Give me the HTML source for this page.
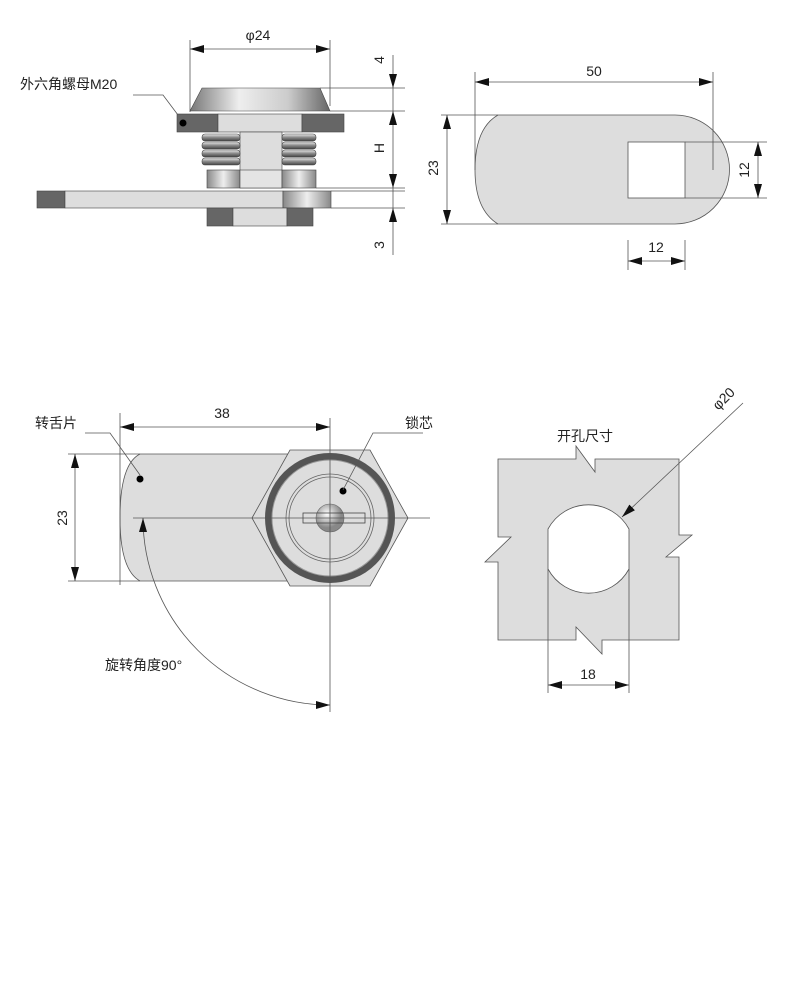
<!DOCTYPE html>
<html><head><meta charset="utf-8"><style>
body{margin:0;background:#fff}
svg{display:block}
text{font-family:"Liberation Sans","Noto Sans CJK SC",sans-serif;font-size:14px;fill:#222}
</style></head><body>
<svg width="788" height="1000" viewBox="0 0 788 1000" xmlns="http://www.w3.org/2000/svg">
<defs>
<linearGradient id="cone" x1="0" x2="1"><stop offset="0" stop-color="#777"/><stop offset=".35" stop-color="#eee"/><stop offset=".7" stop-color="#ccc"/><stop offset="1" stop-color="#666"/></linearGradient>
<linearGradient id="thr" x1="0" y1="0" x2="0" y2="1"><stop offset="0" stop-color="#eee"/><stop offset=".5" stop-color="#888"/><stop offset="1" stop-color="#444"/></linearGradient>
<linearGradient id="col" x1="0" x2="1"><stop offset="0" stop-color="#888"/><stop offset=".5" stop-color="#eee"/><stop offset="1" stop-color="#888"/></linearGradient>
<radialGradient id="ball" cx=".4" cy=".35"><stop offset="0" stop-color="#fff"/><stop offset="1" stop-color="#888"/></radialGradient>
<marker id="a" viewBox="0 0 14 8" refX="14" refY="4" markerWidth="14" markerHeight="8" orient="auto-start-reverse" markerUnits="userSpaceOnUse"><path d="M0 0L14 4L0 8z" fill="#111"/></marker>
</defs>
<g stroke="#555" stroke-width="0.8" fill="none">
<!-- Panel 1 -->
<line x1="190" y1="40" x2="190" y2="112"/><line x1="330" y1="40" x2="330" y2="106"/>
<line x1="190" y1="49" x2="330" y2="49" marker-start="url(#a)" marker-end="url(#a)"/>
<line x1="320" y1="88" x2="405" y2="88"/><line x1="330" y1="111" x2="405" y2="111"/>
<line x1="316" y1="188" x2="405" y2="188"/><line x1="331" y1="191" x2="405" y2="191"/><line x1="331" y1="208" x2="405" y2="208"/>
<line x1="393" y1="55" x2="393" y2="88" marker-end="url(#a)"/>
<line x1="393" y1="88" x2="393" y2="111"/>
<line x1="393" y1="150" x2="393" y2="111" marker-end="url(#a)"/>
<line x1="393" y1="150" x2="393" y2="188" marker-end="url(#a)"/>
<line x1="393" y1="188" x2="393" y2="208"/>
<line x1="393" y1="255" x2="393" y2="208" marker-end="url(#a)"/>
<polyline points="133,95 163,95 178,115"/>
</g>
<g stroke="#444" stroke-width="0.6">
<path d="M202 88H320L330 111H190Z" fill="url(#cone)"/>
<rect x="177" y="114" width="41" height="18" fill="#666"/><rect x="218" y="114" width="84" height="18" fill="#ddd"/><rect x="302" y="114" width="42" height="18" fill="#666"/>
<rect x="240" y="132" width="42" height="56" fill="#ddd"/>
<g fill="url(#thr)">
<rect x="202" y="134" width="38" height="7" rx="3"/><rect x="202" y="142" width="38" height="7" rx="3"/><rect x="202" y="150" width="38" height="7" rx="3"/><rect x="202" y="158" width="38" height="7" rx="3"/>
<rect x="282" y="134" width="34" height="7" rx="3"/><rect x="282" y="142" width="34" height="7" rx="3"/><rect x="282" y="150" width="34" height="7" rx="3"/><rect x="282" y="158" width="34" height="7" rx="3"/>
</g>
<rect x="207" y="170" width="33" height="18" fill="url(#col)"/><rect x="240" y="170" width="42" height="18" fill="#e4e4e4"/><rect x="282" y="170" width="34" height="18" fill="url(#col)"/>
<rect x="37" y="191" width="28" height="17" fill="#666"/><rect x="65" y="191" width="218" height="17" fill="#ddd"/><rect x="283" y="191" width="48" height="17" fill="url(#col)"/>
<rect x="207" y="208" width="26" height="18" fill="#666"/><rect x="233" y="208" width="54" height="18" fill="#ddd"/><rect x="287" y="208" width="26" height="18" fill="#666"/>
</g>
<circle cx="183" cy="123" r="3.5" fill="#000"/>
<text x="20" y="89">外六角螺母M20</text>
<text x="258" y="40" text-anchor="middle">φ24</text>
<text transform="translate(384,60) rotate(-90)" text-anchor="middle">4</text>
<text transform="translate(384,148) rotate(-90)" text-anchor="middle">H</text>
<text transform="translate(384,245) rotate(-90)" text-anchor="middle">3</text>

<!-- Panel 2 top right -->
<path d="M498 115H675A54 54 0 0 1 675 224H498Q475 210 475 170Q475 128 498 115Z" fill="#ddd" stroke="#555" stroke-width="0.8"/>
<rect x="628" y="142" width="57" height="56" fill="#fff" stroke="#555" stroke-width="0.8"/>
<g stroke="#555" stroke-width="0.8" fill="none">
<line x1="475" y1="72" x2="475" y2="170"/><line x1="713" y1="72" x2="713" y2="170"/>
<line x1="475" y1="82" x2="713" y2="82" marker-start="url(#a)" marker-end="url(#a)"/>
<line x1="441" y1="115" x2="498" y2="115"/><line x1="441" y1="224" x2="498" y2="224"/>
<line x1="447" y1="115" x2="447" y2="224" marker-start="url(#a)" marker-end="url(#a)"/>
<line x1="685" y1="142" x2="767" y2="142"/><line x1="685" y1="198" x2="767" y2="198"/>
<line x1="758" y1="142" x2="758" y2="198" marker-start="url(#a)" marker-end="url(#a)"/>
<line x1="628" y1="240" x2="628" y2="270"/><line x1="685" y1="240" x2="685" y2="270"/>
<line x1="628" y1="261" x2="685" y2="261" marker-start="url(#a)" marker-end="url(#a)"/>
</g>
<text x="594" y="76" text-anchor="middle">50</text>
<text transform="translate(438,168) rotate(-90)" text-anchor="middle">23</text>
<text transform="translate(749,170) rotate(-90)" text-anchor="middle">12</text>
<text x="656" y="252" text-anchor="middle">12</text>

<!-- Panel 3 -->
<path d="M140 454H300V581H140Q120 570 120 518Q120 464 140 454Z" fill="#ddd" stroke="#555" stroke-width="0.8"/>
<path d="M252 518L290 450H370L408 518L370 586H290Z" fill="#ddd" stroke="#555" stroke-width="0.8"/>
<circle cx="330" cy="518" r="61.5" fill="none" stroke="#555" stroke-width="7"/>
<circle cx="330" cy="518" r="58" fill="#ddd" stroke="#999" stroke-width="1"/>
<circle cx="330" cy="518" r="44" fill="none" stroke="#666" stroke-width="0.8"/>
<circle cx="330" cy="518" r="41" fill="none" stroke="#666" stroke-width="0.8"/>
<circle cx="330" cy="518" r="14" fill="url(#ball)" stroke="#666" stroke-width="0.6"/>
<rect x="303" y="513" width="62" height="10" fill="none" stroke="#444" stroke-width="0.8"/>
<circle cx="140" cy="479" r="3.5" fill="#000"/><circle cx="343" cy="491" r="3.5" fill="#000"/>
<g stroke="#555" stroke-width="0.8" fill="none">
<line x1="133" y1="518" x2="430" y2="518"/><line x1="330" y1="418" x2="330" y2="712"/>
<line x1="120" y1="413" x2="120" y2="585"/>
<line x1="120" y1="427" x2="330" y2="427" marker-start="url(#a)" marker-end="url(#a)"/>
<line x1="68" y1="454" x2="140" y2="454"/><line x1="68" y1="581" x2="140" y2="581"/>
<line x1="75" y1="454" x2="75" y2="581" marker-start="url(#a)" marker-end="url(#a)"/>
<polyline points="85,433 110,433 140,475"/>
<polyline points="423,433 373,433 343,490"/>
<path d="M330 705A187 187 0 0 1 143 518" marker-start="url(#a)" marker-end="url(#a)"/>
</g>
<text x="222" y="418" text-anchor="middle">38</text>
<text x="35" y="428">转舌片</text>
<text x="405" y="428">锁芯</text>
<text transform="translate(67,518) rotate(-90)" text-anchor="middle">23</text>
<text x="105" y="670">旋转角度90°</text>

<!-- Panel 4 -->
<path d="M498 459H576V446L595 472V459H679V535H692L666 557H679V640H602V654L576 627V640H498V562H485L511 537H498Z" fill="#ddd" stroke="#555" stroke-width="0.8"/>
<path d="M548 529A46 46 0 0 1 629 529V569A46 46 0 0 1 548 569Z" fill="#fff" stroke="#555" stroke-width="0.8"/>
<g stroke="#555" stroke-width="0.8" fill="none">
<line x1="548" y1="569" x2="548" y2="693"/><line x1="629" y1="569" x2="629" y2="693"/>
<line x1="548" y1="685" x2="629" y2="685" marker-start="url(#a)" marker-end="url(#a)"/>
<line x1="743" y1="403" x2="622" y2="517" marker-end="url(#a)"/>
</g>
<text x="588" y="679" text-anchor="middle">18</text>
<text x="557" y="441">开孔尺寸</text>
<text transform="translate(727,402) rotate(-45)" text-anchor="middle">φ20</text>
</svg>
</body></html>
